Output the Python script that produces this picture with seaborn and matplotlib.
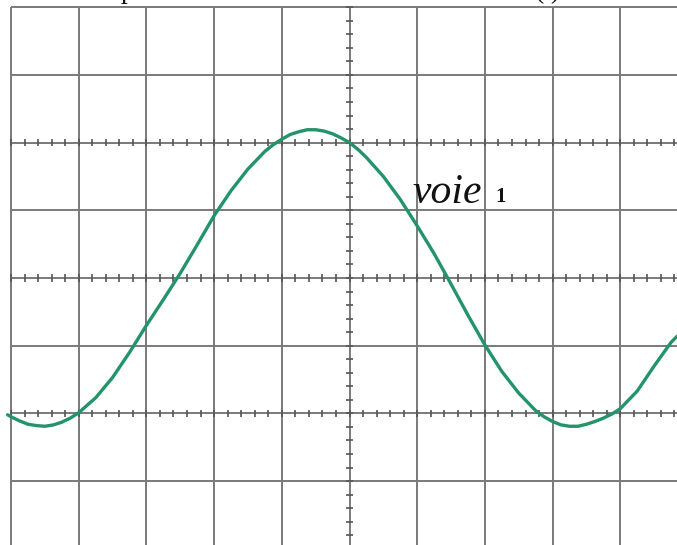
import numpy as np
import matplotlib
matplotlib.use("Agg")
import matplotlib.pyplot as plt
import seaborn as sns

# Trace (units: screen divisions)
time_div = [-0.05, 0.0, 0.125, 0.25, 0.375, 0.5, 0.625, 0.75, 0.875, 1.0,
            1.25, 1.5, 1.75, 2.0, 2.25, 2.5, 2.75, 3.0, 3.25, 3.5, 3.75,
            3.875, 4.0, 4.125, 4.25, 4.375, 4.5, 4.625, 4.75, 4.875, 5.0,
            5.125, 5.25, 5.5, 5.75, 6.0, 6.25, 6.5, 6.75, 7.0, 7.25, 7.5,
            7.75, 7.875, 8.0, 8.125, 8.25, 8.375, 8.5, 8.625, 8.75, 8.875,
            9.0, 9.25, 9.5, 9.75, 9.84]
voltage_div = [-2.02, -2.05, -2.11, -2.16, -2.18, -2.19, -2.17, -2.13, -2.07,
               -1.99, -1.77, -1.47, -1.10, -0.70, -0.32, 0.07, 0.49, 0.92,
               1.29, 1.61, 1.87, 1.97, 2.05, 2.12, 2.16, 2.19, 2.19, 2.17,
               2.13, 2.07, 2.00, 1.90, 1.78, 1.50, 1.16, 0.77, 0.36, -0.09,
               -0.55, -0.99, -1.38, -1.70, -1.96, -2.05, -2.12, -2.17, -2.19,
               -2.19, -2.16, -2.12, -2.07, -2.01, -1.93, -1.67, -1.30, -0.95,
               -0.86]

channel_label = "voie"
channel_number = "1"
top_fragments = ["p", "(t)"]

sns.set_theme(style="white")
plt.rcParams["font.family"] = ["Liberation Serif", "DejaVu Serif"]

W, H = 677, 545
fig = plt.figure(figsize=(W / 100, H / 100), dpi=100)
ax = fig.add_axes([0, 0, 1, 1])
px = 67.7          # pixels per division
x0, y0 = 11, 278   # pixel position of division 0 / centre line
ax.set_xlim(-x0 / px, (W - x0) / px)
ax.set_ylim((y0 - H) / px, y0 / px)
ax.axis("off")

grid_col = "#7a7a7a"
# major grid
ax.vlines(np.arange(0, 11), -4, 4, color=grid_col, lw=1.4, zorder=1)
ax.hlines(np.arange(-4, 5), 0, 10, color=grid_col, lw=1.4, zorder=1)
# graduations
tick = 0.055
for yl in (-2, 0, 2):
    xs = np.arange(0, 10.001, 0.2)
    ax.vlines(xs, yl - tick, yl + tick, color="#555555", lw=1.2, zorder=1)
ys = np.arange(-4, 4.001, 0.2)
ax.hlines(ys, 5 - tick, 5 + tick, color="#555555", lw=1.2, zorder=1)

# trace
sns.lineplot(x=time_div, y=voltage_div, ax=ax, color="#23946a", lw=2.4,
             zorder=3)
for line in ax.lines:
    line.set_solid_joinstyle("round")
    line.set_solid_capstyle("round")

# labels
ax.text((412 - x0) / px, (y0 - 203) / px, channel_label, fontsize=30,
        fontstyle="italic", va="baseline", ha="left", color="#111111", zorder=4)
ax.text((495 - x0) / px, (y0 - 202) / px, channel_number, fontsize=15,
        fontweight="bold", va="baseline", ha="left", color="#111111", zorder=4)

# clipped text fragments at the top edge
fig.text(128 / W, 1 + 2 / H, top_fragments[0], fontsize=20, ha="center",
         va="baseline", color="#111111")
fig.text(548 / W, 1 + 2 / H, top_fragments[1], fontsize=20, ha="center",
         va="baseline", color="#111111")

fig.savefig("out.png", dpi=100, facecolor="white")
